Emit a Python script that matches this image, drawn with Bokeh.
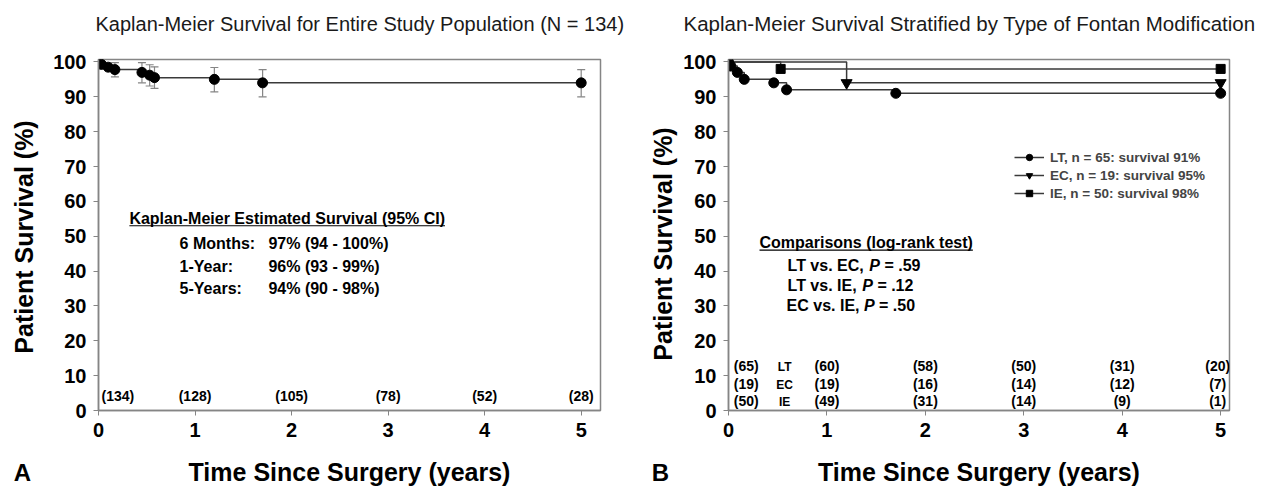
import math
from bokeh.plotting import figure
from bokeh.models import (ColumnDataSource, Whisker, TeeHead, Label, Legend, LegendItem,
                          FixedTicker, Range1d, Title, LinearAxis, ColorBar, LinearColorMapper)
from bokeh.layouts import row
from bokeh.embed import file_html
from bokeh.resources import INLINE
from bokeh.core.properties import value

FONT = "Liberation Sans"

# ---------------- data ----------------
x_ticks = [0, 1, 2, 3, 4, 5]
y_ticks = [0, 10, 20, 30, 40, 50, 60, 70, 80, 90, 100]

# Panel A: whole population
all_t = [0, 0.03, 0.1, 0.17, 0.45, 0.53, 0.58, 1.2, 1.7, 5.0]
all_s = [100, 99.3, 98.5, 97.8, 97.0, 96.2, 95.5, 95.0, 94.0, 94.0]
ci_t = [0.17, 0.45, 0.53, 0.58, 1.2, 1.7, 5.0]
ci_lo = [95.7, 94.0, 93.1, 92.4, 91.4, 90.0, 90.0]
ci_hi = [99.8, 99.8, 99.2, 98.6, 98.4, 97.8, 97.8]
risk_all_t = [0.2, 1, 2, 3, 4, 5]
risk_all = ["(134)", "(128)", "(105)", "(78)", "(52)", "(28)"]
est_labels = ["6 Months:", "1-Year:", "5-Years:"]
est_values = ["97% (94 - 100%)", "96% (93 - 99%)", "94% (90 - 98%)"]

# Panel B: by Fontan type
lt_t = [0, 0.024, 0.09, 0.16, 0.46, 0.59, 1.70, 5.0]
lt_s = [100, 98.8, 97.0, 95.0, 94.0, 92.0, 91.0, 91.0]
ec_t = [0, 1.2, 5.0]
ec_s = [100, 94.0, 94.0]
ie_t = [0, 0.53, 5.0]
ie_s = [100, 98.0, 98.0]
risk_b_t = [0.18, 1, 2, 3, 4, 4.97]
risk_lt = ["(65)", "(60)", "(58)", "(50)", "(31)", "(20)"]
risk_ec = ["(19)", "(19)", "(16)", "(14)", "(12)", "(7)"]
risk_ie = ["(50)", "(49)", "(31)", "(14)", "(9)", "(1)"]
group_names = ["LT", "EC", "IE"]
legend_labels = ["LT, n = 65: survival 91%", "EC, n = 19: survival 95%", "IE, n = 50: survival 98%"]
comparisons = [("LT vs. EC,", ".59"), ("LT vs. IE,", ".12"), ("EC vs. IE,", ".50")]

TITLE_A = "Kaplan-Meier Survival for Entire Study Population (N = 134)"
TITLE_B = "Kaplan-Meier Survival Stratified by Type of Fontan Modification"
X_TITLE = "Time Since Surgery (years)"
Y_TITLE = "Patient Survival (%)"

# ---------------- helpers ----------------
W = {' ': 278, '(': 333, ')': 333, ',': 278, '-': 333, '.': 278, ':': 333, '=': 584, '%': 889,
     'A': 722, 'B': 722, 'C': 722, 'D': 722, 'E': 667, 'F': 611, 'G': 778, 'H': 722, 'I': 278,
     'K': 722, 'L': 611, 'M': 833, 'N': 722, 'O': 778, 'P': 667, 'S': 667, 'T': 611, 'Y': 667,
     'a': 556, 'b': 611, 'c': 556, 'd': 611, 'e': 556, 'f': 333, 'g': 611, 'h': 611, 'i': 278,
     'k': 556, 'l': 278, 'm': 889, 'n': 611, 'o': 611, 'p': 611, 'r': 389, 's': 556, 't': 333,
     'u': 611, 'v': 556, 'y': 556}


def text_w(s, size):
    return sum(W.get(c, 556) for c in s) / 1000.0 * size


GRAY = "#858585"
LINE = "#3a3a3a"
H = 489
TOP, BOTTOM = 59, 79  # shared (aligned) frame borders


def make_fig(width, xmax, bl, br, title, t_offset, t_size, xl_standoff, spacer_kind):
    p = figure(width=width, height=H, output_backend="svg", toolbar_location=None,
               x_range=Range1d(0, xmax), y_range=Range1d(0, 100.7),
               min_border_left=bl, min_border_right=br, min_border_top=TOP,
               min_border_bottom=BOTTOM)
    xa = p.below[0]
    ya = p.left[0]
    # invisible spacer (no texts) between frame and title: lifts the title
    if spacer_kind == "colorbar":
        spacer = ColorBar(color_mapper=LinearColorMapper(palette=["#ffffff"], low=0, high=1),
                          orientation="horizontal", height=24, padding=0, margin=0,
                          scale_alpha=0, ticker=FixedTicker(ticks=[]), bar_line_color=None,
                          border_line_color=None, background_fill_alpha=0,
                          major_tick_line_color=None, minor_tick_line_color=None)
    else:
        spacer = LinearAxis(ticker=FixedTicker(ticks=[], minor_ticks=[2.5]), axis_line_color=None,
                            major_tick_line_color=None, minor_tick_line_color=None,
                            major_tick_out=24, minor_tick_out=24, major_tick_in=0,
                            minor_tick_in=0)
    p.add_layout(spacer, "above")
    p.title = Title(text=title, align="left", offset=t_offset, standoff=2, vertical_align="bottom",
                    text_font=FONT, text_font_size=t_size, text_font_style="normal",
                    text_color="#1a1a1a")
    p.xgrid.visible = False
    p.ygrid.visible = False
    xa.ticker = FixedTicker(ticks=x_ticks)
    ya.ticker = FixedTicker(ticks=y_ticks)
    for ax in [xa, ya]:
        ax.axis_line_color = GRAY
        ax.axis_line_width = 1.5
        ax.major_tick_line_color = GRAY
        ax.major_tick_in = 0
        ax.major_tick_out = 5
        ax.minor_tick_line_color = None
        ax.major_label_text_font = FONT
        ax.major_label_text_font_style = "bold"
        ax.major_label_text_font_size = "20px"
        ax.major_label_text_color = "black"
        ax.major_label_standoff = 7
    xa.axis_label = X_TITLE
    xa.axis_label_text_font = FONT
    xa.axis_label_text_font_size = "25px"
    xa.axis_label_text_font_style = "bold"
    xa.axis_label_text_color = "black"
    xa.axis_label_standoff = xl_standoff
    p.outline_line_color = GRAY
    p.outline_line_width = 1.5
    return p


def add_label(p, x, y, text, size, style="bold", align="left", angle=0.0, baseline="middle"):
    p.add_layout(Label(x=x, y=y, text=text, text_font=FONT, text_font_size=f"{size}px",
                       text_font_style=style, text_align=align, text_baseline=baseline,
                       angle=angle, text_color="black"))


def text_fig(width, ytitle_x, ytitle_abs_y, letter):
    # frame spans the same rows as the plots; data y = page pixel measured from the bottom
    f = figure(width=width, height=H, output_backend="svg", toolbar_location=None,
               x_range=Range1d(0, width), y_range=Range1d(BOTTOM, H - TOP),
               y_axis_location=None, min_border_left=0, min_border_right=0,
               min_border_top=TOP, min_border_bottom=BOTTOM)
    f.outline_line_color = None
    f.grid.visible = False
    ax = f.below[0]
    ax.ticker = FixedTicker(ticks=[])
    ax.axis_line_color = None
    ax.major_tick_out = 0
    ax.major_tick_in = 0
    ax.minor_tick_line_color = None
    ax.axis_label = letter
    ax.axis_label_text_font = FONT
    ax.axis_label_text_font_size = "24px"
    ax.axis_label_text_font_style = "bold"
    ax.axis_label_text_color = "black"
    ax.axis_label_standoff = 48
    add_label(f, ytitle_x, H - ytitle_abs_y, Y_TITLE, 25, align="center", angle=math.pi / 2)
    return f


# ---------------- Panel A ----------------
fa = text_fig(44, 23.5, 236.5, "A")
pa = make_fig(596, 5.2, 54, 40, TITLE_A, -3, "20px", 18, "colorbar")
pxa = 502 / 5.2  # px per year

pa.step(all_t, all_s, mode="after", line_color=LINE, line_width=1.5)
pa.add_layout(Whisker(source=ColumnDataSource(dict(base=ci_t, lower=ci_lo, upper=ci_hi)),
                      base="base", lower="lower", upper="upper", line_color=GRAY, line_width=1.2,
                      upper_head=TeeHead(size=8, line_color=GRAY, line_width=1.2),
                      lower_head=TeeHead(size=8, line_color=GRAY, line_width=1.2)))
pa.scatter(all_t, all_s, marker="circle", size=10, fill_color="black", line_color="black")

pa.text(x=risk_all_t, y=[4.3] * len(risk_all), text=risk_all, text_font=value(FONT),
        text_font_size="14px", text_font_style="bold", text_align="center", text_baseline="middle")

hdr_a = "Kaplan-Meier Estimated Survival (95% CI)"
hx = 0.32
add_label(pa, hx, 55.1, hdr_a, 16)
pa.segment(x0=[hx], y0=[53.0], x1=[hx + text_w(hdr_a, 16) / pxa], y1=[53.0],
           line_color="black", line_width=1.2)
for lab, val, yy in zip(est_labels, est_values, [47.9, 41.3, 35.0]):
    add_label(pa, 0.84, yy, lab, 16)
    add_label(pa, 1.76, yy, val, 16)

# ---------------- Panel B ----------------
fb = text_fig(40, 22, 243.5, "B")
pb = make_fig(584, 5.09, 48, 35, TITLE_B, -45, "20.5px", 18, "minor")
pxb = 501 / 5.09

r_lt = pb.step(lt_t, lt_s, mode="after", line_color=LINE, line_width=1.5)
r_ec = pb.step(ec_t, ec_s, mode="after", line_color=LINE, line_width=1.5)
r_ie = pb.step(ie_t, ie_s, mode="after", line_color=LINE, line_width=1.5)
m_lt = pb.scatter(lt_t, lt_s, marker="circle", size=10, fill_color="black", line_color="black")
m_ec = pb.scatter(ec_t[1:], ec_s[1:], marker="inverted_triangle", size=11, fill_color="black",
                  line_color="black")
m_ie = pb.scatter(ie_t[1:], ie_s[1:], marker="square", size=9, fill_color="black", line_color="black")

legend = Legend(items=[LegendItem(label=legend_labels[0], renderers=[r_lt, m_lt]),
                       LegendItem(label=legend_labels[1], renderers=[r_ec, m_ec]),
                       LegendItem(label=legend_labels[2], renderers=[r_ie, m_ie])],
                location=(286, 209), glyph_width=30, glyph_height=16, label_height=16,
                label_standoff=6, spacing=2, padding=0, margin=0,
                border_line_color=None, background_fill_alpha=0,
                label_text_font=FONT, label_text_font_size="13.5px", label_text_font_style="bold")
pb.add_layout(legend)

for rows_txt, yy in zip([risk_lt, risk_ec, risk_ie], [12.9, 7.7, 2.7]):
    pb.text(x=risk_b_t, y=[yy] * len(rows_txt), text=rows_txt, text_font=value(FONT),
            text_font_size="14px", text_font_style="bold", text_align="center",
            text_baseline="middle")
for name, yy in zip(group_names, [12.4, 7.4, 2.4]):
    add_label(pb, 0.57, yy, name, 12, align="center")

hdr_b = "Comparisons (log-rank test)"
hbx = 0.315
add_label(pb, hbx, 48.3, hdr_b, 16)
pb.segment(x0=[hbx], y0=[46.0], x1=[hbx + text_w(hdr_b, 16) / pxb], y1=[46.0],
           line_color="black", line_width=1.2)
for (pre, pv), yy, x0 in zip(comparisons, [41.7, 36.0, 30.2], [0.6, 0.6, 0.59]):
    add_label(pb, x0, yy, pre, 16)
    xp = x0 + text_w(pre + " ", 16) / pxb
    add_label(pb, xp, yy, "P", 16, style="bold italic")
    add_label(pb, xp + text_w("P ", 16) / pxb, yy, "= " + pv, 16)

layout = row(fa, pa, fb, pb)
open("out.html", "w").write(file_html(layout, INLINE))
